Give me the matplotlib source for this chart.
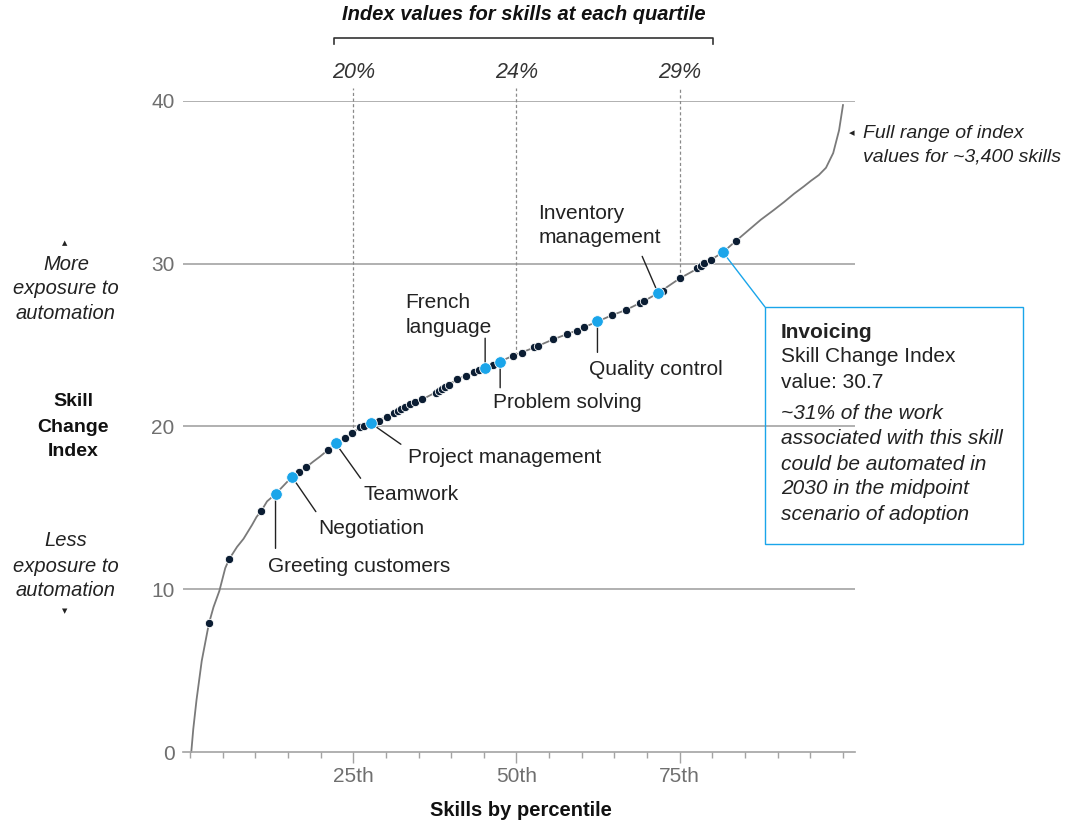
import matplotlib
matplotlib.use('Agg')
import matplotlib.pyplot as plt
from matplotlib.patches import Rectangle
from matplotlib.lines import Line2D

plt.rcParams['font.family'] = ['Liberation Sans', 'DejaVu Sans']

# sorted index curve for ~3,400 skills (percentile, index value)
curve_pct = [0.2, 0.5, 1.0, 1.8, 2.9, 3.6, 4.5, 5.4, 6.0, 7.2, 8.2, 9.5, 10.2, 10.9,
             11.8, 13.1, 15.6, 16.7, 17.8, 18.9, 19.9, 21.1, 22.3, 23.7, 24.8, 26.1,
             27.7, 30.2, 33.0, 35.5, 38.6, 40.9, 43.5, 45.2, 47.5, 49.5, 52.7, 55.6,
             59.2, 62.4, 64.7, 66.7, 69.5, 71.7, 75.0, 77.7, 79.8, 81.6, 83.6, 85.5,
             87.4, 89.4, 91.0, 92.5, 94.0, 95.1, 96.3, 97.4, 98.5, 99.4, 100]
curve_val = [0, 1.4, 3.2, 5.6, 7.9, 8.9, 9.9, 11.3, 11.85, 12.6, 13.1, 13.95, 14.45, 14.8,
             15.4, 15.85, 16.9, 17.2, 17.5, 17.85, 18.15, 18.55, 18.95, 19.3, 19.6, 19.95,
             20.2, 20.6, 21.2, 21.65, 22.3, 22.9, 23.35, 23.6, 24.0, 24.35, 24.85, 25.35,
             25.9, 26.45, 26.85, 27.15, 27.7, 28.2, 29.1, 29.7, 30.25, 30.7, 31.4, 32.05,
             32.7, 33.3, 33.8, 34.3, 34.75, 35.1, 35.45, 35.9, 36.8, 38.2, 39.75]

# other sample skills (dark dots)
dot_pct = [2.9, 6.0, 10.9, 16.7, 17.8, 21.1, 23.7, 24.8, 26.1, 26.6, 28.9, 30.2, 31.2,
           31.8, 32.3, 33.0, 33.7, 34.5, 35.5, 37.6, 38.1, 38.6, 39.1, 39.6, 40.9, 42.2,
           43.5, 44.2, 46.4, 49.5, 50.8, 52.7, 53.3, 55.6, 57.7, 59.2, 60.4, 64.7, 66.7,
           68.9, 69.5, 72.5, 75.0, 77.7, 78.2, 78.7, 79.8, 83.6]
dot_val = [7.93, 11.86, 14.81, 17.22, 17.49, 18.56, 19.31, 19.60, 19.95, 20.03, 20.34,
           20.61, 20.85, 20.97, 21.08, 21.22, 21.38, 21.52, 21.67, 22.08, 22.18, 22.29,
           22.45, 22.55, 22.90, 23.10, 23.33, 23.47, 23.78, 24.33, 24.53, 24.87, 24.96,
           25.36, 25.67, 25.89, 26.10, 26.83, 27.16, 27.61, 27.73, 28.34, 29.11, 29.72,
           29.86, 30.03, 30.23, 31.40]

# highlighted skills
skills = ["Greeting customers", "Negotiation", "Teamwork", "Project management",
          "French\nlanguage", "Problem solving", "Quality control",
          "Inventory\nmanagement", "Invoicing"]
skill_pct = [13.1, 15.6, 22.3, 27.7, 45.2, 47.5, 62.4, 71.7, 81.6]
skill_val = [15.83, 16.92, 18.97, 20.20, 23.58, 23.98, 26.46, 28.18, 30.72]

quartile_pct = [25, 50, 75]
quartile_val = [19.6, 24.4, 29.1]
quartile_labels = ["20%", "24%", "29%"]

y_ticks = [0, 10, 20, 30, 40]
x_ticks = [25, 50, 75]
x_ticklabels = ["25th", "50th", "75th"]

NAVY = '#0b1d33'
BLUE = '#1aa5ea'
GRID = '#a3a3a3'
TICKC = '#6f6f6f'
INK = '#222222'

W, H = 1072, 824
fig = plt.figure(figsize=(W / 100, H / 100), dpi=100)
ax = fig.add_axes([183 / W, (H - 752) / H, 672 / W, 651 / H])
ax.set_xlim(-1.07, 101.84)
ax.set_ylim(0, 40)


def fx(px):
    return px / W


def fy(py):
    return 1 - py / H


for s in ['top', 'right', 'left']:
    ax.spines[s].set_visible(False)
ax.spines['bottom'].set_color(GRID)
ax.spines['bottom'].set_linewidth(1.2)
for v in y_ticks[1:]:
    ax.axhline(v, color=GRID, lw=1.2, zorder=0)

ax.set_yticks(y_ticks)
ax.set_yticklabels([str(v) for v in y_ticks])
ax.tick_params(axis='y', length=0, pad=6, labelsize=15, labelcolor=TICKC)
ax.set_xticks(x_ticks)
ax.set_xticklabels(x_ticklabels)
ax.set_xticks(range(0, 101, 5), minor=True)
ax.tick_params(axis='x', which='major', length=8, width=1, color=GRID, pad=3,
               labelsize=15, labelcolor=TICKC)
ax.tick_params(axis='x', which='minor', length=4, width=1, color=GRID)

# quartile guides
for p, v in zip(quartile_pct, quartile_val):
    ax.plot([p, p], [v, 40.8], color='#8a8a8a', lw=0.9, ls=(0, (2.5, 2)),
            zorder=1, clip_on=False)
for p, lab in zip(quartile_pct, quartile_labels):
    ax.annotate(lab, xy=(p, 40), xytext=(0, 28), textcoords='offset pixels',
                ha='center', va='center', fontsize=15.5, style='italic', color='#333333',
                annotation_clip=False)

ax.plot(curve_pct, curve_val, color='#7a7a7a', lw=1.3, zorder=2, clip_on=False)
ax.scatter(dot_pct, dot_val, s=36, color=NAVY, edgecolor='white', linewidth=0.6,
           zorder=3, clip_on=False)
ax.scatter(skill_pct, skill_val, s=70, color=BLUE, edgecolor='white', linewidth=0.6,
           zorder=4, clip_on=False)

# label layout in pixels: (line end dx, dy, text dx, dy)
label_layout = [(0, -54, -8, -72), (24, -35, 26, -52), (25, -35, 28, -51),
                (30, -21, 37, -34), (0, 30, -80, 53), (0, -26, -7, -41),
                (0, -31, -8, -48), (-16, 37, -120, 68)]
for name, p, v, (lx, ly, tx, ty) in zip(skills[:-1], skill_pct, skill_val, label_layout):
    ax.annotate('', xy=(p, v), xytext=(lx, ly), textcoords='offset pixels',
                arrowprops=dict(arrowstyle='-', color=INK, lw=1,
                                shrinkA=0, shrinkB=0), zorder=1.5)
    ax.annotate(name, xy=(p, v), xytext=(tx, ty), textcoords='offset pixels',
                ha='left', va='center', fontsize=15, color=INK,
                linespacing=1.38)

# invoicing callout
ax.annotate('', xy=(skill_pct[-1], skill_val[-1]), xytext=(765, H - 307),
            textcoords='figure pixels',
            arrowprops=dict(arrowstyle='-', color=BLUE, lw=1, shrinkA=0, shrinkB=0),
            zorder=1.5, annotation_clip=False)
fig.add_artist(Rectangle((fx(765), fy(544)), fx(1023) - fx(765), fy(307) - fy(544),
                         transform=fig.transFigure, fill=False, edgecolor=BLUE, lw=1))
box_lines = [("Invoicing", 332, 'normal', 'bold'),
             ("Skill Change Index", 357, 'normal', 'normal'),
             ("value: 30.7", 382, 'normal', 'normal'),
             ("~31% of the work", 413, 'italic', 'normal'),
             ("associated with this skill", 438, 'italic', 'normal'),
             ("could be automated in", 464, 'italic', 'normal'),
             ("2030 in the midpoint", 489, 'italic', 'normal'),
             ("scenario of adoption", 514, 'italic', 'normal')]
for txt, py, st, wt in box_lines:
    fig.text(fx(781), fy(py), txt, ha='left', va='center', fontsize=15,
             style=st, fontweight=wt, color=INK)

# top header and bracket
fig.text(fx(524), fy(15), "Index values for skills at each quartile", ha='center',
         va='center', fontsize=14.5, style='italic', fontweight='bold', color='#111111')
fig.add_artist(Line2D([fx(334), fx(334), fx(713), fx(713)],
                      [fy(44), fy(38), fy(38), fy(44)], transform=fig.transFigure,
                      color='#333333', lw=1.2))

# right note
fig.text(fx(852), fy(133), "\u25C2", ha='center', va='center', fontsize=8,
         color=INK, family='DejaVu Sans')
fig.text(fx(863), fy(133), "Full range of index", ha='left', va='center',
         fontsize=14, style='italic', color=INK)
fig.text(fx(863), fy(157), "values for ~3,400 skills", ha='left', va='center',
         fontsize=14, style='italic', color=INK)

# y axis description
fig.text(fx(65), fy(243), "\u25B2", ha='center', va='center', fontsize=5,
         color=INK, family='DejaVu Sans')
for txt, py in [("More", 264), ("exposure to", 289), ("automation", 314)]:
    fig.text(fx(66), fy(py), txt, ha='center', va='center', fontsize=14.5,
             style='italic', color=INK)
for txt, py in [("Skill", 402), ("Change", 427), ("Index", 452)]:
    fig.text(fx(73), fy(py), txt, ha='center', va='center', fontsize=14,
             fontweight='bold', color='#111111')
for txt, py in [("Less", 541), ("exposure to", 566), ("automation", 591)]:
    fig.text(fx(66), fy(py), txt, ha='center', va='center', fontsize=14.5,
             style='italic', color=INK)
fig.text(fx(65), fy(611), "\u25BC", ha='center', va='center', fontsize=5,
         color=INK, family='DejaVu Sans')

fig.text(fx(521), fy(810), "Skills by percentile", ha='center', va='center',
         fontsize=14.5, fontweight='bold', color='#111111')

fig.savefig('out.png', dpi=100)
